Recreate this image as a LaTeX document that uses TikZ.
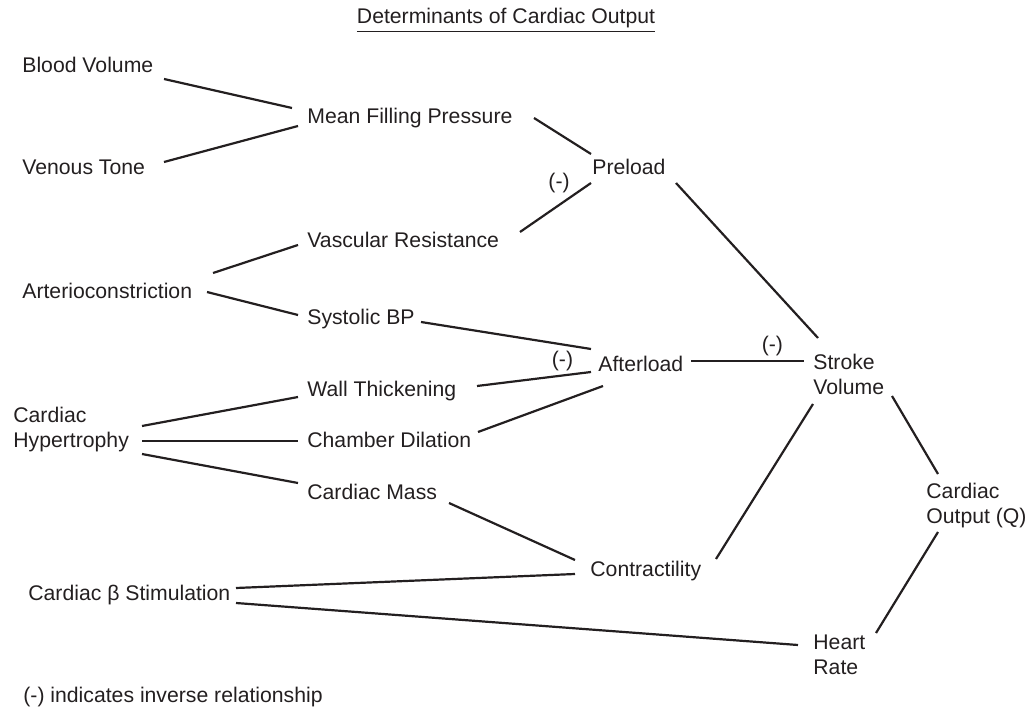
\documentclass[tikz,border=0pt]{standalone}
\usepackage{fontspec}
\setmainfont{Liberation Sans}
\definecolor{ink}{HTML}{231F20}
\begin{document}
\begin{tikzpicture}[x=0.5pt,y=-0.5pt,font=\fontsize{10.6}{12.5}\selectfont,text=ink,
  lbl/.style={inner sep=0pt,anchor=base west},
  ml/.style={inner sep=0pt,anchor=west,align=left},
  minus/.style={inner sep=0pt,above=#1},
  link/.style={draw=ink,line width=1.1pt}]
\useasboundingbox (0,0) rectangle (1032,710);
\path (506,24) node[inner sep=0pt,anchor=base] (title) {\underline{Determinants of Cardiac Output}};
% left column
\path (22,73) node[lbl] (bv) {Blood Volume};
\path (22,175) node[lbl] (vt) {Venous Tone};
\path (22,299) node[lbl] (art) {Arterioconstriction};
\path (13,430) node[ml] (ch) {Cardiac\\Hypertrophy};
\path (28,600) node[lbl] (beta) {Cardiac β Stimulation};
% middle column
\path (307,124) node[lbl] (mfp) {Mean Filling Pressure};
\path (307,248) node[lbl] (vr) {Vascular Resistance};
\path (307,325) node[lbl] (sbp) {Systolic BP};
\path (307,397) node[lbl] (wt) {Wall Thickening};
\path (307,448) node[lbl] (cd) {Chamber Dilation};
\path (307,499) node[lbl] (cm) {Cardiac Mass};
% right part
\path (592,175) node[lbl] (pre) {Preload};
\path (598,372) node[lbl] (al) {Afterload};
\path (590,576) node[lbl] (con) {Contractility};
\path (813,374) node[ml] (sv) {Stroke\\Volume};
\path (813,655) node[ml] (hr) {Heart\\Rate};
\path (926,506) node[ml] (co) {Cardiac\\Output (Q)};
\path (23,702) node[lbl] (note) {(-) indicates inverse relationship};
% connectors
\draw[link] ([shift={(142,6)}]bv.base west) -- ([shift={(-15,-16)}]mfp.base west);
\draw[link] ([shift={(142,-13)}]vt.base west) -- ([shift={(-9,2)}]mfp.base west);
\draw[link] ([shift={(227,-6)}]mfp.base west) -- ([shift={(-1,-21)}]pre.base west);
\draw[link] ([shift={(213,-16)}]vr.base west) -- node[minus=5.5pt,pos=.55] (m1) {(-)} ([shift={(-1,8)}]pre.base west);
\draw[link] ([shift={(191,-26)}]art.base west) -- ([shift={(-9,-3)}]vr.base west);
\draw[link] ([shift={(185,-7)}]art.base west) -- ([shift={(-9,-10)}]sbp.base west);
\draw[link] ([shift={(114,-3)}]sbp.base west) -- ([shift={(-7,-23)}]al.base west);
\draw[link] ([shift={(170,-11)}]wt.base west) -- node[minus=2pt,pos=.75] (m2) {(-)} ([shift={(-7,0)}]al.base west);
\draw[link] ([shift={(171,-16)}]cd.base west) -- ([shift={(5,14)}]al.base west);
\draw[link] ([shift={(93,-11)}]al.base west) -- node[minus=2pt,pos=.72] (m3) {(-)} ([shift={(-9,-13)}]sv.west);
\draw[link] ([shift={(84,8)}]pre.base west) -- ([shift={(5,-36)}]sv.west);
\draw[link] ([shift={(126,-17)}]con.base west) -- ([shift={(0,30)}]sv.west);
\draw[link] ([shift={(79,22)}]sv.west) -- ([shift={(12,-32)}]co.west);
\draw[link] ([shift={(12,26)}]co.west) -- ([shift={(63,-22)}]hr.west);
\draw[link] ([shift={(129,-4)}]ch.west) -- ([shift={(-9,0)}]wt.base west);
\draw[link] ([shift={(129,11)}]ch.west) -- ([shift={(-9,-7)}]cd.base west);
\draw[link] ([shift={(129,24)}]ch.west) -- ([shift={(-9,-16)}]cm.base west);
\draw[link] ([shift={(142,4)}]cm.base west) -- ([shift={(-15,-16)}]con.base west);
\draw[link] ([shift={(208,-12)}]beta.base west) -- ([shift={(-15,-2)}]con.base west);
\draw[link] ([shift={(208,3)}]beta.base west) -- ([shift={(-15,-10)}]hr.west);
\end{tikzpicture}
\end{document}
